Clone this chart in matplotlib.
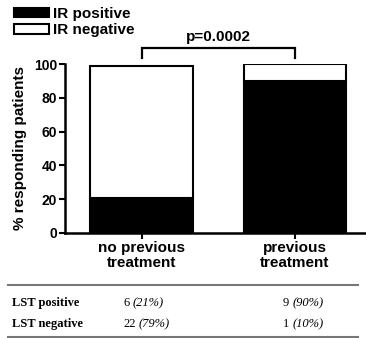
import matplotlib
matplotlib.use("Agg")
import matplotlib.pyplot as plt
from matplotlib.lines import Line2D

plt.rcParams['font.family'] = ['Liberation Sans', 'DejaVu Sans']

# ---- data ----
groups = ["no previous\ntreatment", "previous\ntreatment"]
ir_positive = [21, 90]
ir_negative = [78, 10]
series_labels = ["IR positive", "IR negative"]
yticks = [0, 20, 40, 60, 80, 100]
p_text = "p=0.0002"
table_rows = ["LST positive", "LST negative"]
table_counts = [["6", "9"], ["22", "1"]]
table_pcts = [["(21%)", "(90%)"], ["(79%)", "(10%)"]]

W, H = 366, 338
fig = plt.figure(figsize=(W / 100, H / 100), dpi=100)
ax = fig.add_axes([65 / W, 1 - 233 / H, 1 - 65 / W, (233 - 64) / H])

x = list(range(len(groups)))
bw = 0.673
b1 = ax.bar(x, ir_positive, width=bw, color='black', edgecolor='black', linewidth=1.5)
b2 = ax.bar(x, ir_negative, width=bw, bottom=ir_positive, color='white',
            edgecolor='black', linewidth=1.5)

ax.set_xlim(-0.503, 1.464)
ax.set_ylim(0, 100)
ax.set_yticks(yticks)
ax.set_xticks(x)
ax.set_xticklabels(groups, fontsize=11, fontweight='bold', linespacing=1.05)
for lab in ax.get_yticklabels():
    lab.set_fontsize(10)
    lab.set_fontweight('bold')
ax.tick_params(axis='both', width=1.5, length=4, pad=1.5)
ax.tick_params(axis='x', pad=2)
for s in ['top', 'right']:
    ax.spines[s].set_visible(False)
for s in ['left', 'bottom']:
    ax.spines[s].set_linewidth(1.8)
ax.set_ylabel("% responding patients", fontsize=11, fontweight='bold', labelpad=5)

# significance bracket
yb, yl = 109.5, 103.5
ax.plot([x[0], x[0], x[1], x[1]], [yl, yb, yb, yl], color='black', lw=1.6,
        clip_on=False, solid_joinstyle='miter')
ax.text((x[0] + x[1]) / 2, 112, p_text, ha='center', va='bottom',
        fontsize=11, fontweight='bold')

# legend
fig.legend([b1, b2], series_labels, loc='upper left',
           bbox_to_anchor=(14 / W, 1 - 7 / H), frameon=False,
           prop={'weight': 'bold', 'size': 11}, handlelength=2.3,
           handleheight=0.6, handletextpad=0.25, labelspacing=0.15,
           borderaxespad=0, borderpad=0)

# table
for yy in [285, 336.5]:
    fig.add_artist(Line2D([8 / W, 358 / W], [1 - yy / H, 1 - yy / H],
                          color='#777777', lw=1.5))
row_base = [306, 327]
col_x = [123, 283]
for i, rlab in enumerate(table_rows):
    yfig = 1 - row_base[i] / H
    fig.text(12 / W, yfig, rlab, family='Liberation Serif',
             fontweight='bold', fontsize=9, va='baseline', ha='left')
    for j in range(len(col_x)):
        t = fig.text(col_x[j] / W, yfig, table_counts[i][j],
                     family='Liberation Serif', fontsize=9, va='baseline', ha='left')
        ax.annotate(table_pcts[i][j], xy=(1, 0), xycoords=t, xytext=(2.3, 0),
                    textcoords='offset points', family='Liberation Serif',
                    style='italic', fontsize=9, va='bottom', ha='left',
                    annotation_clip=False)

fig.savefig("out.png", dpi=100)
